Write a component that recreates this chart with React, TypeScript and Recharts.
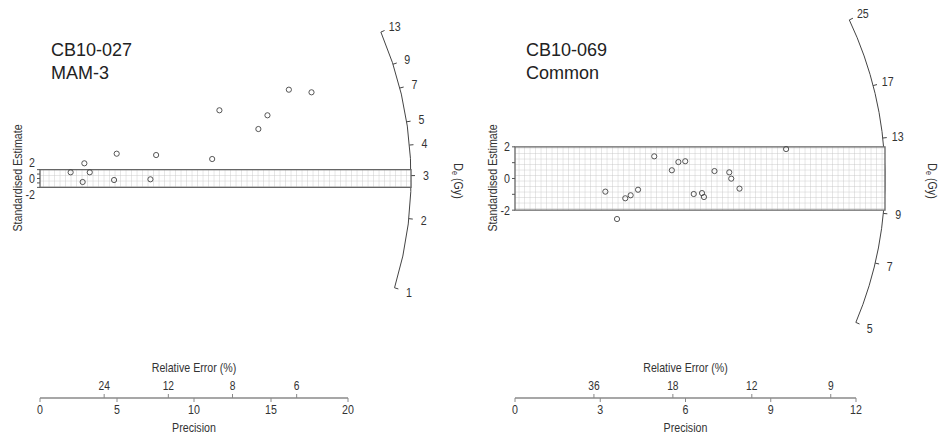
import { ScatterChart, Scatter, XAxis, YAxis, ReferenceArea, Customized } from "recharts";

// CB10-027 (MAM-3) points
const mamPrecision = [1.99, 2.77, 2.88, 3.23, 4.98, 4.81, 7.54, 7.17, 11.18, 11.65, 14.18, 14.77, 16.16, 17.63];
const mamStdEstimate = [1.4, -0.79, 3.43, 1.4, 5.6, -0.34, 5.3, -0.18, 4.4, 15.4, 11.17, 14.27, 20.05, 19.46];
const mamPrecisionTicks = [0, 5, 10, 15, 20];
const mamRelErrTicks = [24, 12, 8, 6];
const mamDeTicks = [1, 2, 3, 4, 5, 7, 9, 13];
const mamCentralDe = 2.92;

// CB10-069 (Common) points
const comPrecision = [3.18, 3.59, 3.88, 4.07, 4.33, 4.9, 5.52, 5.75, 5.99, 6.29, 6.58, 6.65, 7.02, 7.54, 7.61, 7.9, 9.54];
const comStdEstimate = [-0.83, -2.56, -1.25, -1.06, -0.71, 1.4, 0.52, 1.04, 1.09, -0.98, -0.92, -1.17, 0.47, 0.39, -0.01, -0.64, 1.86];
const comPrecisionTicks = [0, 3, 6, 9, 12];
const comRelErrTicks = [36, 18, 12, 9];
const comDeTicks = [5, 7, 9, 13, 17, 25];
const comCentralDe = 10.67;

const stdTicks = [-2, -1, 0, 1, 2];

const W = 470;
const H = 435;
const SANS = '"Liberation Sans", Arial, sans-serif';
const INK = "#333";
const NARROW = 0.82; // horizontal squeeze to imitate Arial Narrow

// text squeezed horizontally around its anchor point
const NText = ({ x, y, rotate = 0, size = 13, anchor = "middle", baseline, children }: any) => (
  <text
    transform={`translate(${x},${y}) rotate(${rotate}) scale(${NARROW},1)`}
    textAnchor={anchor}
    dominantBaseline={baseline}
    fontSize={size}
    fill={INK}
    fontFamily={SANS}
  >
    {children}
  </text>
);

type PanelProps = {
  id: string;
  title: string[];
  precision: number[];
  std: number[];
  precisionTicks: number[];
  relErrTicks: number[];
  deTicks: number[];
  centralDe: number;
  yDomain: [number, number];
  yAxisWidth: number;
  marginRight: number;
  labelShift: number;
  arcRadius: number;
};

const margin = { top: 10, bottom: 0, left: 0 };
// precision axis sits on the plot edge, relative-error axis stacked right under it
const PREC_H = 1;
const RE_H = 36;

const YTick = (props: any) => {
  const { x, y, payload, shift } = props;
  const v = payload.value;
  if (v % 2 !== 0) return <g />;
  return (
    <NText x={x} y={y - Math.sign(v) * shift} anchor="end" baseline="central" size={13}>
      {v}
    </NText>
  );
};

const ReTick = (props: any) => {
  const { x, y, payload } = props;
  return (
    <g>
      <line x1={x} x2={x} y1={y - 1} y2={y - 5} stroke="#888" />
      <NText x={x} y={y - 9} size={12.5}>
        {Math.round(100 / payload.value)}
      </NText>
    </g>
  );
};

const PrecTick = (props: any) => (
  <NText x={props.x} y={props.y + 12} size={13}>
    {props.payload.value}
  </NText>
);

const AxisTitle = (props: any) => {
  const vb = props.viewBox || {};
  return (
    <NText x={vb.x + vb.width / 2} y={vb.y + props.dy} size={13}>
      {props.text}
    </NText>
  );
};

const Dot = (props: any) => <circle cx={props.cx} cy={props.cy} r={2.6} fill="none" stroke="#444" strokeWidth={0.9} />;

// radial De axis, titles and y-axis title
const RadialAxis = (props: any) => {
  const p: PanelProps = props.panel;
  const xMax = p.precisionTicks[p.precisionTicks.length - 1];
  const x0 = margin.left + p.yAxisWidth;
  const kx = (W - x0 - p.marginRight) / xMax;
  const plotH = H - margin.top - margin.bottom - RE_H - PREC_H;
  const ky = plotH / (p.yDomain[1] - p.yDomain[0]);
  const yc = margin.top + p.yDomain[1] * ky;
  const R = p.arcRadius;
  const ang = (d: number) => Math.atan(((Math.log(d) - Math.log(p.centralDe)) * ky) / kx);
  const pt = (a: number, r: number) => [x0 + r * Math.cos(a), yc - r * Math.sin(a)];
  const aMin = ang(p.deTicks[0]);
  const aMax = ang(p.deTicks[p.deTicks.length - 1]);
  const [sx, sy] = pt(aMin, R);
  const [ex, ey] = pt(aMax, R);
  return (
    <g>
      <defs>
        <pattern id={`grid-${p.id}`} width={5.5} height={5.5} patternUnits="userSpaceOnUse">
          <rect width={5.5} height={5.5} fill="#fff" />
          <path d="M5.5 0 V5.5 M0 5.5 H5.5" stroke="#c4c4c4" strokeWidth={0.8} />
        </pattern>
      </defs>
      <path d={`M${sx},${sy} A${R},${R} 0 0 0 ${ex},${ey}`} fill="none" stroke="#444" strokeWidth={1} />
      {p.deTicks.map((d) => {
        const a = ang(d);
        const [ax, ay] = pt(a, R);
        const [bx, by] = pt(a, R + 4);
        const [lx, ly] = pt(a, R + 15);
        return (
          <g key={d}>
            <line x1={ax} y1={ay} x2={bx} y2={by} stroke="#444" />
            <NText x={lx} y={ly} baseline="central" size={13}>
              {d}
            </NText>
          </g>
        );
      })}
      <text
        transform={`translate(${x0 + R + 47},${181}) rotate(90) scale(${NARROW},1)`}
        textAnchor="middle"
        dominantBaseline="central"
        fontSize={13}
        fill={INK}
        fontFamily={SANS}
      >
        D<tspan fontSize={9} dy={3}>e</tspan>
        <tspan dy={-3}> (Gy)</tspan>
      </text>
      <NText x={x0 - 22} y={178} rotate={-90} baseline="central" size={13}>
        Standardised Estimate
      </NText>
      {p.title.map((t, i) => (
        <text key={t} x={x0 + 11} y={56 + i * 23} fontSize={18} fill="#222" fontFamily={SANS}>
          {t}
        </text>
      ))}
    </g>
  );
};

function Panel(p: PanelProps) {
  const points = p.precision.map((x, i) => ({ x, y: p.std[i] }));
  const xMax = p.precisionTicks[p.precisionTicks.length - 1];
  const x0 = margin.left + p.yAxisWidth;
  const kx = (W - x0 - p.marginRight) / xMax;
  return (
    <ScatterChart width={W} height={H} margin={{ ...margin, right: p.marginRight }} style={{ fontFamily: SANS }}>
      <Customized component={<RadialAxis panel={p} />} />
      <XAxis
        xAxisId="prec"
        type="number"
        dataKey="x"
        domain={[0, xMax]}
        allowDataOverflow
        ticks={p.precisionTicks}
        interval={0}
        height={PREC_H}
        axisLine={{ stroke: "#8a8a8a", strokeWidth: 1.5 }}
        tickLine={{ stroke: "#8a8a8a" }}
        tickSize={4}
        tickMargin={0}
        tick={<PrecTick />}
        label={<AxisTitle text="Precision" dy={34} />}
      />
      <XAxis
        xAxisId="re"
        type="number"
        dataKey="x"
        domain={[0, xMax]}
        allowDataOverflow
        ticks={p.relErrTicks.map((r) => 100 / r)}
        interval={0}
        height={RE_H}
        axisLine={false}
        tickLine={false}
        tickSize={0}
        tickMargin={0}
        tick={<ReTick />}
        label={<AxisTitle text="Relative Error (%)" dy={-27} />}
      />
      <YAxis
        type="number"
        dataKey="y"
        domain={p.yDomain}
        allowDataOverflow
        ticks={stdTicks}
        interval={0}
        width={p.yAxisWidth}
        axisLine={false}
        tickLine={{ stroke: "#555" }}
        tickSize={3}
        tickMargin={2}
        tick={<YTick shift={p.labelShift} />}
      />
      <ReferenceArea
        xAxisId="prec"
        x1={0}
        x2={p.arcRadius / kx}
        y1={-2}
        y2={2}
        ifOverflow="visible"
        fill={`url(#grid-${p.id})`}
        fillOpacity={1}
        stroke="#666"
        strokeWidth={1.3}
      />
      <Scatter xAxisId="prec" data={points} shape={<Dot />} isAnimationActive={false} />
    </ScatterChart>
  );
}

export default function App() {
  return (
    <div style={{ position: "absolute", left: 0, top: 0, width: 940, height: 435, background: "#fff", display: "flex" }}>
      <Panel
        id="mam"
        title={["CB10-027", "MAM-3"]}
        precision={mamPrecision}
        std={mamStdEstimate}
        precisionTicks={mamPrecisionTicks}
        relErrTicks={mamRelErrTicks}
        deTicks={mamDeTicks}
        centralDe={mamCentralDe}
        yDomain={[-49.55, 38.04]}
        yAxisWidth={40}
        marginRight={122}
        labelShift={7}
        arcRadius={371}
      />
      <Panel
        id="com"
        title={["CB10-069", "Common"]}
        precision={comPrecision}
        std={comStdEstimate}
        precisionTicks={comPrecisionTicks}
        relErrTicks={comRelErrTicks}
        deTicks={comDeTicks}
        centralDe={comCentralDe}
        yDomain={[-13.866, 10.644]}
        yAxisWidth={45}
        marginRight={84}
        labelShift={0}
        arcRadius={370}
      />
    </div>
  );
}
